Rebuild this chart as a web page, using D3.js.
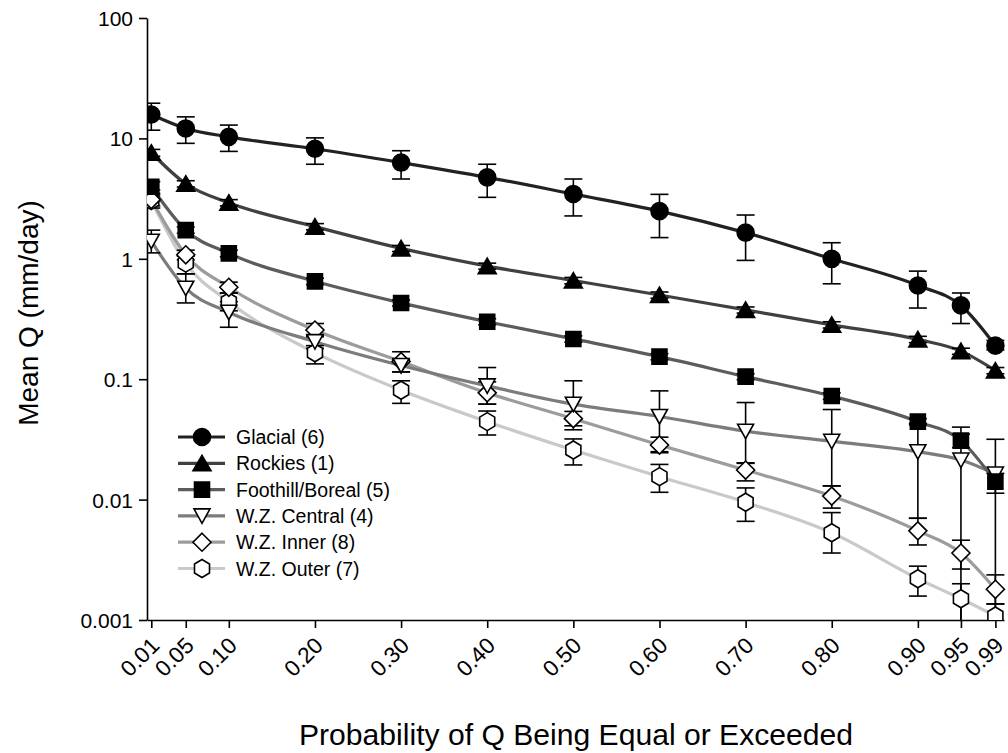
<!DOCTYPE html>
<html>
<head>
<meta charset="utf-8">
<script src="https://cdn.jsdelivr.net/npm/d3@7"></script>
<style>
  html, body { margin: 0; padding: 0; background: #fff; }
  svg { display: block; font-family: "Liberation Sans", Arial, sans-serif; }
</style>
</head>
<body>
<svg id="chart" width="1008" height="753"></svg>
<script>
// Exceedance probabilities (x categories)
const probs = [0.01, 0.05, 0.10, 0.20, 0.30, 0.40, 0.50, 0.60, 0.70, 0.80, 0.90, 0.95, 0.99];
const probLabels = ["0.01", "0.05", "0.10", "0.20", "0.30", "0.40", "0.50", "0.60", "0.70", "0.80", "0.90", "0.95", "0.99"];
const yTickValues = [0.001, 0.01, 0.1, 1, 10, 100];
const yTickLabels = ["0.001", "0.01", "0.1", "1", "10", "100"];

// Mean Q (mm/day) with lower / upper error limits for each region
const glacial   = [15.8, 12.1, 10.3, 8.2, 6.3, 4.75, 3.45, 2.49, 1.65, 1.0, 0.60, 0.41, 0.19];
const glacialLo = [11.7, 9.1, 7.8, 6.1, 4.6, 3.24, 2.27, 1.50, 0.97, 0.62, 0.39, 0.29, 0.175];
const glacialHi = [19.6, 15.1, 12.9, 10.1, 7.9, 6.1, 4.6, 3.43, 2.31, 1.36, 0.79, 0.52, 0.21];

const rockies   = [7.6, 4.2, 2.92, 1.85, 1.22, 0.87, 0.66, 0.50, 0.376, 0.283, 0.214, 0.171, 0.118];
const rockiesLo = [7.1, 3.95, 2.75, 1.74, 1.15, 0.82, 0.62, 0.47, 0.354, 0.266, 0.201, 0.161, 0.111];
const rockiesHi = [8.1, 4.45, 3.1, 1.96, 1.29, 0.92, 0.70, 0.53, 0.398, 0.300, 0.227, 0.181, 0.125];

const foothill   = [3.97, 1.73, 1.11, 0.65, 0.43, 0.30, 0.216, 0.154, 0.105, 0.0725, 0.0444, 0.0309, 0.0141];
const foothillLo = [3.73, 1.63, 1.04, 0.61, 0.405, 0.283, 0.203, 0.145, 0.099, 0.068, 0.0418, 0.027, 0.0113];
const foothillHi = [4.37, 1.84, 1.18, 0.69, 0.455, 0.318, 0.229, 0.163, 0.111, 0.077, 0.047, 0.035, 0.0165];

const central   = [1.4, 0.57, 0.36, 0.205, 0.13, 0.088, 0.062, 0.049, 0.037, 0.0305, 0.025, 0.0213, 0.0163];
const centralLo = [1.12, 0.43, 0.27, 0.18, 0.115, 0.062, 0.038, 0.025, 0.020, 0.013, 0.0070, 0.001, 0.001];
const centralHi = [1.73, 0.75, 0.44, 0.23, 0.145, 0.125, 0.097, 0.080, 0.064, 0.056, 0.043, 0.040, 0.0317];

const inner   = [3.1, 1.08, 0.58, 0.256, 0.14, 0.077, 0.047, 0.0284, 0.0176, 0.0107, 0.0055, 0.0036, 0.0018];
const innerLo = [2.75, 0.98, 0.52, 0.225, 0.115, 0.062, 0.041, 0.0245, 0.0143, 0.0085, 0.0042, 0.00265, 0.00136];
const innerHi = [3.5, 1.18, 0.64, 0.29, 0.169, 0.095, 0.054, 0.033, 0.0202, 0.013, 0.0070, 0.0046, 0.00237];

const outer   = [3.04, 0.92, 0.44, 0.166, 0.081, 0.0444, 0.0258, 0.0155, 0.0095, 0.0053, 0.0022, 0.0015, 0.00108];
const outerLo = [2.64, 0.75, 0.37, 0.134, 0.063, 0.0344, 0.0194, 0.0115, 0.0066, 0.0036, 0.00158, 0.001, 0.001];
const outerHi = [3.39, 1.05, 0.52, 0.19, 0.097, 0.0544, 0.0319, 0.0196, 0.0125, 0.0078, 0.0028, 0.0020, 0.00136];

const seriesNames = ["Glacial (6)", "Rockies (1)", "Foothill/Boreal (5)", "W.Z. Central (4)", "W.Z. Inner (8)", "W.Z. Outer (7)"];

const series = [
  { name: seriesNames[0], v: glacial,  lo: glacialLo,  hi: glacialHi,  line: "#222222", shape: "circle",   fill: "#000" },
  { name: seriesNames[1], v: rockies,  lo: rockiesLo,  hi: rockiesHi,  line: "#404040", shape: "triUp",    fill: "#000" },
  { name: seriesNames[2], v: foothill, lo: foothillLo, hi: foothillHi, line: "#5c5c5c", shape: "square",   fill: "#000" },
  { name: seriesNames[3], v: central,  lo: centralLo,  hi: centralHi,  line: "#7c7c7c", shape: "triDown",  fill: "#fff" },
  { name: seriesNames[4], v: inner,    lo: innerLo,    hi: innerHi,    line: "#9c9c9c", shape: "diamond",  fill: "#fff" },
  { name: seriesNames[5], v: outer,    lo: outerLo,    hi: outerHi,    line: "#c9c9c9", shape: "hexagon",  fill: "#fff" }
];

// Marker outlines, centred on (0,0)
function shapePath(kind) {
  switch (kind) {
    case "circle":  return "M8.5,0A8.5,8.5 0 1,1 -8.5,0A8.5,8.5 0 1,1 8.5,0Z";
    case "triUp":   return "M0,-8L9,7.5L-9,7.5Z";
    case "square":  return "M-7.5,-7.5H7.5V7.5H-7.5Z";
    case "triDown": return "M-8,-7H8L0,7.5Z";
    case "diamond": return "M0,-9L9,0L0,9L-9,0Z";
    case "hexagon": return "M0,-9L7.5,-4.5V4.5L0,9L-7.5,4.5V-4.5Z";
  }
}

const svg = d3.select("#chart");
const plotLeft = 147, plotRight = 1004, plotTop = 18, plotBottom = 620;

const x = d3.scaleLinear().domain([0.005, 1.0]).range([plotLeft, plotRight]);
const y = d3.scaleLog().domain([0.001, 100]).range([plotBottom, plotTop]);

// Axes
const yAxis = d3.axisLeft(y)
  .tickValues(yTickValues)
  .tickFormat((d, i) => yTickLabels[i])
  .tickSize(8).tickSizeOuter(0);
const gy = svg.append("g").attr("transform", `translate(${plotLeft},0)`).call(yAxis);
gy.select(".domain").attr("stroke", "#000").attr("stroke-width", 1.6);
gy.selectAll(".tick line").attr("stroke", "#000").attr("stroke-width", 1.6);
gy.selectAll(".tick text")
  .attr("x", -14).attr("dy", "0.36em")
  .attr("font-size", 21).attr("fill", "#000")
  .attr("font-family", "Liberation Sans, Arial, sans-serif");

const xAxis = d3.axisBottom(x)
  .tickValues(probs)
  .tickFormat((d, i) => probLabels[i])
  .tickSize(8).tickSizeOuter(0);
const gx = svg.append("g").attr("transform", `translate(0,${plotBottom})`).call(xAxis);
gx.select(".domain").attr("stroke", "#000").attr("stroke-width", 1.6);
gx.selectAll(".tick line").attr("stroke", "#000").attr("stroke-width", 1.6);
gx.selectAll(".tick text")
  .attr("y", 0).attr("dy", 0)
  .attr("text-anchor", "end")
  .attr("transform", "translate(9,27) rotate(-45)")
  .attr("font-size", 22.5).attr("fill", "#000")
  .attr("font-family", "Liberation Sans, Arial, sans-serif");

// Axis titles
svg.append("text")
  .attr("x", 576).attr("y", 745)
  .attr("text-anchor", "middle")
  .attr("font-size", 30)
  .attr("textLength", 554).attr("lengthAdjust", "spacingAndGlyphs")
  .text("Probability of Q Being Equal or Exceeded");

svg.append("text")
  .attr("transform", "translate(38,313) rotate(-90)")
  .attr("text-anchor", "middle")
  .attr("font-size", 28)
  .text("Mean Q (mm/day)");

// Plot area clip so error bars stop at the axis
svg.append("defs").append("clipPath").attr("id", "plotClip")
  .append("rect").attr("x", plotLeft).attr("y", plotTop - 10)
  .attr("width", plotRight - plotLeft + 10).attr("height", plotBottom - plotTop + 10);

const plot = svg.append("g").attr("clip-path", "url(#plotClip)");

const line = d3.line()
  .x((d, i) => x(probs[i]))
  .y(d => y(d))
  .curve(d3.curveMonotoneX);

// Connecting lines, lightest series underneath
[...series].reverse().forEach(s => {
  plot.append("path")
    .attr("d", line(s.v))
    .attr("fill", "none")
    .attr("stroke", s.line)
    .attr("stroke-width", 3.2);
});

// Error bars
const cap = 9;
series.forEach(s => {
  const g = plot.append("g").attr("stroke", "#000").attr("stroke-width", 1.6).attr("fill", "none");
  probs.forEach((p, i) => {
    const cx = x(p), y0 = y(s.lo[i]), y1 = y(s.hi[i]);
    g.append("line").attr("x1", cx).attr("x2", cx).attr("y1", y0).attr("y2", y1);
    g.append("line").attr("x1", cx - cap).attr("x2", cx + cap).attr("y1", y1).attr("y2", y1);
    if (s.lo[i] > 0.001) {
      g.append("line").attr("x1", cx - cap).attr("x2", cx + cap).attr("y1", y0).attr("y2", y0);
    }
  });
});

// Markers, darkest series on top
[...series].reverse().forEach(s => {
  plot.append("g").selectAll("path")
    .data(s.v)
    .join("path")
    .attr("transform", (d, i) => `translate(${x(probs[i])},${y(d)})`)
    .attr("d", shapePath(s.shape))
    .attr("fill", s.fill)
    .attr("stroke", "#000")
    .attr("stroke-width", 1.6);
});

// Legend
const legend = svg.append("g");
const lx0 = 178, lx1 = 225, lmx = 202, ltx = 236, ly0 = 437, lstep = 26.3;
series.forEach((s, i) => {
  const ly = ly0 + i * lstep;
  legend.append("line")
    .attr("x1", lx0).attr("x2", lx1).attr("y1", ly).attr("y2", ly)
    .attr("stroke", s.line).attr("stroke-width", 3.2);
  legend.append("path")
    .attr("transform", `translate(${lmx},${ly})`)
    .attr("d", shapePath(s.shape))
    .attr("fill", s.fill).attr("stroke", "#000").attr("stroke-width", 1.6);
  legend.append("text")
    .attr("x", ltx).attr("y", ly).attr("dy", "0.36em")
    .attr("font-size", 19.5)
    .text(s.name);
});
</script>
</body>
</html>
